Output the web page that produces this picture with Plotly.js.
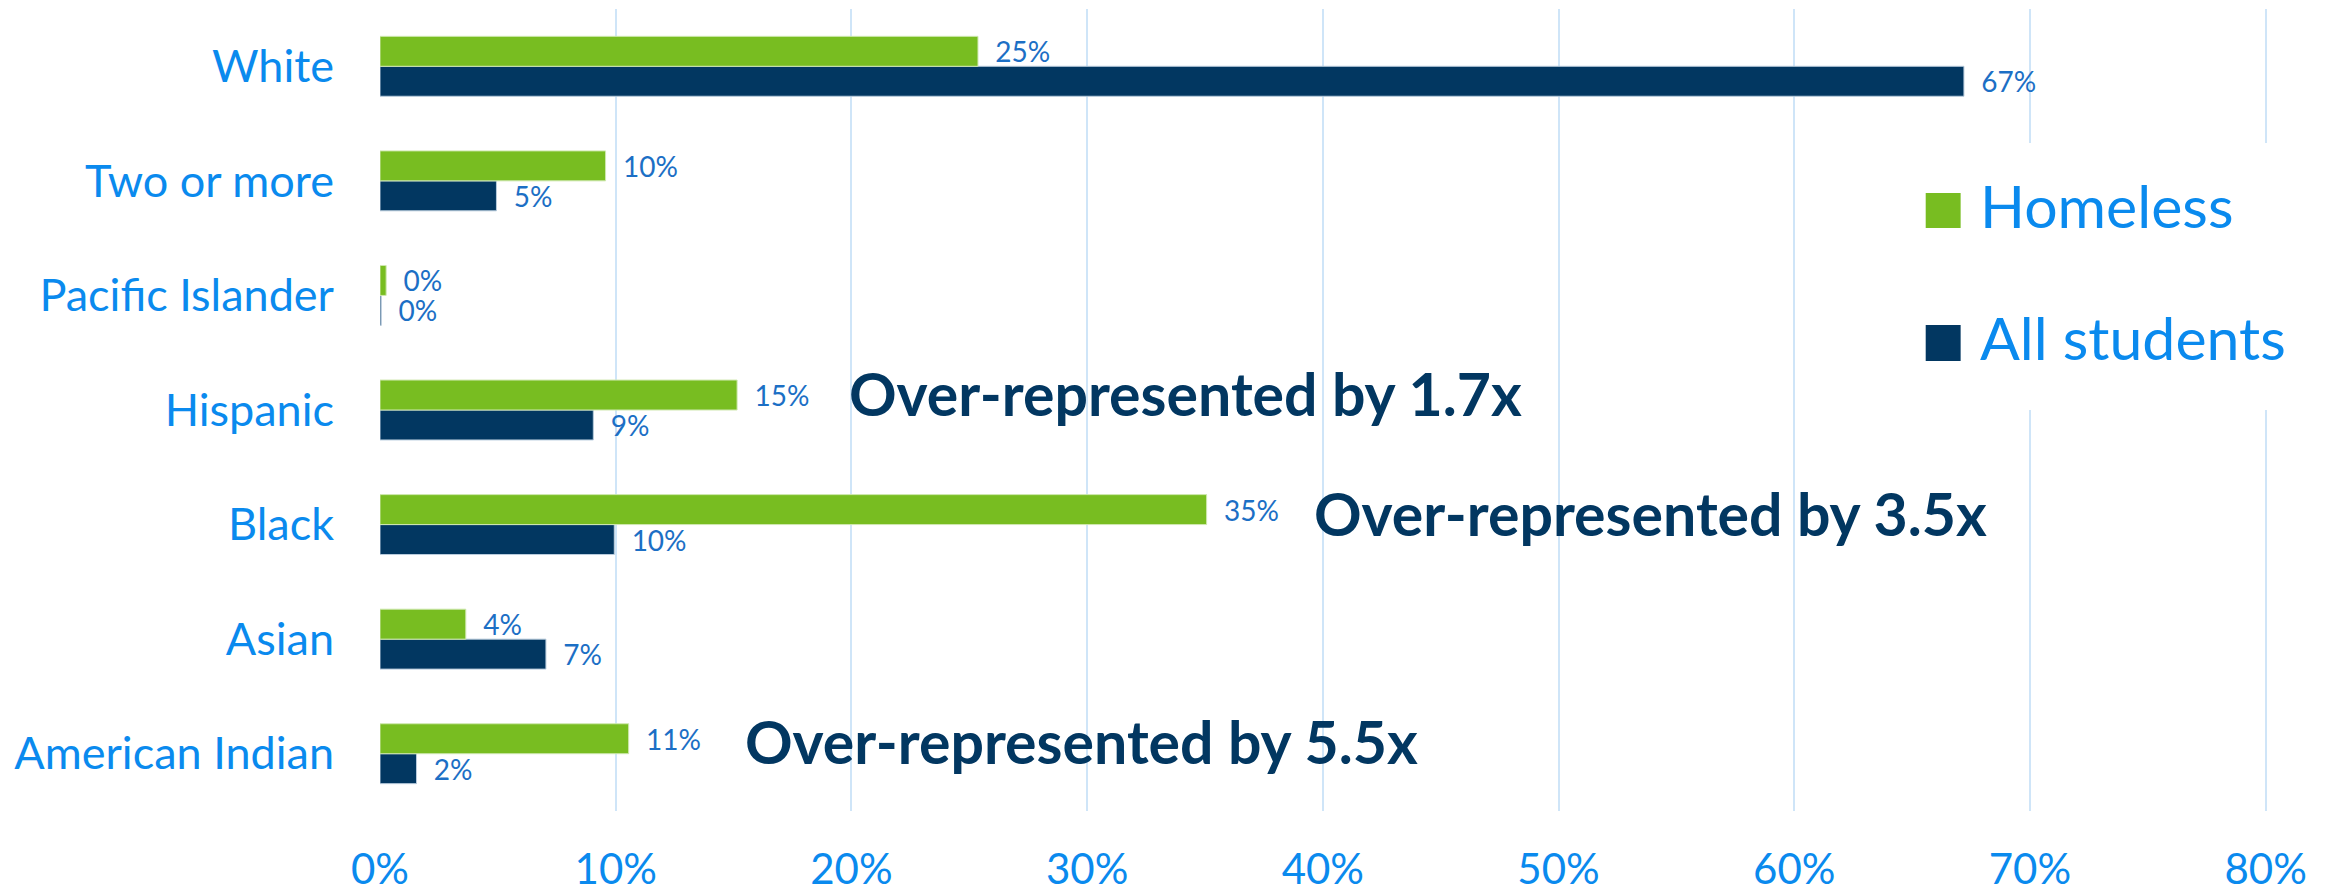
<!DOCTYPE html>
<html>
<head>
<meta charset="utf-8">
<script src="https://cdn.plot.ly/plotly-3.0.1.min.js"></script>
<style>
  html, body { margin: 0; padding: 0; background: #ffffff; }
  #chart { width: 2338px; height: 892px; }
</style>
</head>
<body>
<div id="chart"></div>
<script>
// ---- Data ----
const categories = ['American Indian', 'Asian', 'Black', 'Hispanic', 'Pacific Islander', 'Two or more', 'White'];
const homeless = [0.1055, 0.0364, 0.3507, 0.1515, 0.0026, 0.0957, 0.2537];
const allStudents = [0.0155, 0.0704, 0.0994, 0.0905, 0.0005, 0.0494, 0.672];
const seriesNames = ['Homeless', 'All students'];
const calloutCategories = ['Hispanic', 'Black', 'American Indian'];
const calloutTexts = ['Over-represented by 1.7x', 'Over-represented by 3.5x', 'Over-represented by 5.5x'];
const calloutX = [0.1981, 0.3953, 0.1540];
const xTickVals = [0, 0.1, 0.2, 0.3, 0.4, 0.5, 0.6, 0.7, 0.8];

// ---- Styles ----
const GREEN = '#78BD21';
const NAVY = '#023761';
const TICKBLUE = '#0A8AEE';
const LABELBLUE = '#1C6FC5';
const FONT = 'Lato, "Open Sans", sans-serif';

const barCommon = {
  type: 'bar',
  orientation: 'h',
  y: categories,
  textposition: 'outside',
  texttemplate: '  %{x:.0%}',
  textfont: { family: FONT, size: 28, color: LABELBLUE },
  constraintext: 'none',
  cliponaxis: false,
  hoverinfo: 'skip',
  showlegend: false
};

const traces = [
  Object.assign({}, barCommon, {
    name: seriesNames[1],
    x: allStudents,
    marker: { color: NAVY, line: { color: '#B9CCDD', width: 1 } }
  }),
  Object.assign({}, barCommon, {
    name: seriesNames[0],
    x: homeless,
    marker: { color: GREEN, line: { color: '#CFE8B0', width: 1 } }
  })
];

// Legend drawn with shapes + text (large square swatches)
const legendShapes = [
  { type: 'rect', xref: 'paper', yref: 'paper', x0: 0.80, x1: 1.04, y0: 0.50, y1: 0.833,
    fillcolor: '#ffffff', line: { width: 0 }, layer: 'above' },
  { type: 'rect', xref: 'paper', yref: 'paper', x0: 0.8187, x1: 0.8372, y0: 0.7269, y1: 0.7706,
    fillcolor: GREEN, line: { width: 0 }, layer: 'above' },
  { type: 'rect', xref: 'paper', yref: 'paper', x0: 0.8187, x1: 0.8372, y0: 0.561, y1: 0.606,
    fillcolor: NAVY, line: { width: 0 }, layer: 'above' }
];

const legendAnnotations = [
  { xref: 'paper', yref: 'paper', x: 0.8465, y: 0.755, xanchor: 'left', yanchor: 'middle',
    text: seriesNames[0], showarrow: false, font: { family: FONT, size: 59, color: TICKBLUE } },
  { xref: 'paper', yref: 'paper', x: 0.8465, y: 0.590, xanchor: 'left', yanchor: 'middle',
    text: seriesNames[1], showarrow: false, font: { family: FONT, size: 59, color: TICKBLUE } }
];

const calloutShifts = [17, 11, 12];
const calloutAnnotations = calloutTexts.map((t, i) => ({
  xref: 'x', yref: 'y', x: calloutX[i], y: calloutCategories[i],
  xanchor: 'left', yanchor: 'middle', yshift: calloutShifts[i],
  text: t, showarrow: false,
  font: { family: FONT, size: 59, color: NAVY, weight: 700 }
}));

const layout = {
  width: 2338,
  height: 892,
  margin: { l: 380, r: 70, t: 9, b: 81, pad: 0 },
  paper_bgcolor: '#ffffff',
  plot_bgcolor: '#ffffff',
  barmode: 'group',
  bargap: 0.477,
  bargroupgap: 0,
  showlegend: false,
  font: { family: FONT },
  xaxis: {
    range: [0, 0.801],
    tickvals: xTickVals,
    tickformat: '.0%',
    showgrid: true,
    gridcolor: '#CFE5F8',
    gridwidth: 2,
    zeroline: false,
    showline: false,
    ticks: '',
    ticklabelstandoff: 30,
    tickfont: { family: FONT, size: 42, color: TICKBLUE },
    fixedrange: true
  },
  yaxis: {
    type: 'category',
    categoryorder: 'array',
    categoryarray: categories,
    showgrid: false,
    zeroline: false,
    showline: false,
    ticks: '',
    ticklabelstandoff: 45,
    tickfont: { family: FONT, size: 45, color: TICKBLUE },
    fixedrange: true
  },
  shapes: legendShapes,
  annotations: legendAnnotations.concat(calloutAnnotations)
};

Plotly.newPlot('chart', traces, layout, { displayModeBar: false, staticPlot: true });
</script>
</body>
</html>
